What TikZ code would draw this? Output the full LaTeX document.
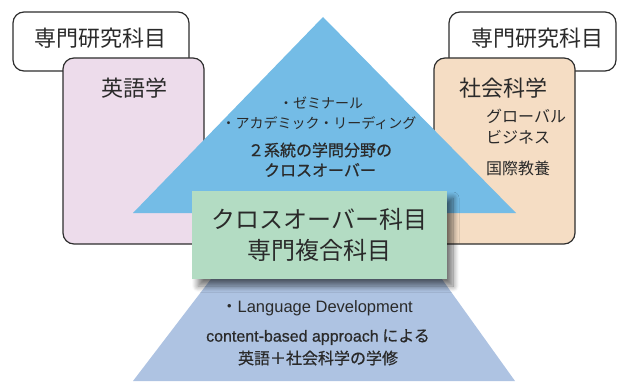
\documentclass[tikz,border=0pt]{standalone}
\usepackage{fontspec}
\setmainfont{Noto Sans CJK JP}
\newfontfamily\jpmed[FakeBold=0.7]{Noto Sans CJK JP}
\newfontfamily\lat{Liberation Sans}
\newfontfamily\latmed[FakeBold=0.7]{Liberation Sans}
\usetikzlibrary{shadows.blur}
\definecolor{txt}{HTML}{2A2A2A}
\definecolor{edge}{HTML}{2E2E2E}
\definecolor{pinkfill}{HTML}{EDDCEB}
\definecolor{peachfill}{HTML}{F5DDC4}
\definecolor{trifill}{HTML}{74BCE6}
\definecolor{trapfill}{HTML}{AEC3E2}
\definecolor{greenfill}{HTML}{B3DCC3}
\tikzset{
  labelbox/.style={draw=edge, line width=1.2pt, fill=white, rounded corners=11pt},
  pinkbox/.style={draw=edge, line width=1.2pt, fill=pinkfill, rounded corners=11pt},
  peachbox/.style={draw=edge, line width=1.2pt, fill=peachfill, rounded corners=11pt},
  txtnode/.style={text=txt, inner sep=0pt, anchor=center},
  big/.style={txtnode, font=\fontsize{22}{26}\selectfont},
  mid/.style={txtnode, font=\fontsize{14}{17}\selectfont},
  midb/.style={txtnode, font=\fontsize{16}{19}\selectfont\jpmed},
  sub/.style={text=txt, inner sep=0pt, anchor=west, font=\fontsize{16}{19}\selectfont},
}
\begin{document}
\begin{tikzpicture}[x=1pt,y=-1pt]
\useasboundingbox (0,0) rectangle (618,382);
% label boxes
\draw[labelbox] (13,12) rectangle (189,71);
\draw[labelbox] (449,12) rectangle (616,71);
\node[big] (lbl1) at (100,38) {専門研究科目};
\node[big] (lbl2) at (537,38) {専門研究科目};
% subject boxes
\draw[pinkbox] (63,58) rectangle (204,244);
\draw[peachbox] (434,58) rectangle (575,244);
\node[big] (eng) at (134,88) {英語学};
\node[big] (soc) at (503,88) {社会科学};
\node[sub] (s1) at (486,116) {グローバル};
\node[sub] (s2) at (486,137) {ビジネス};
\node[sub] (s3) at (486,168) {国際教養};
% triangle
\fill[trifill] (323,17) -- (133,213) -- (516,213) -- cycle;
\node[mid] (t1) at (321,103) {・ゼミナール};
\node[mid] (t2) at (319,123) {・アカデミック・リーディング};
\node[midb] (t3) at (320,150) {２系統の学問分野の};
\node[midb] (t4) at (320,170) {クロスオーバー};
% trapezoid
\fill[trapfill] (133,381) -- (214,275) -- (439,275) -- (515,381) -- cycle;
\node[mid, font=\fontsize{16.5}{19}\selectfont] (b1) at (317,308) {・{\lat Language Development}};
\node[midb] (b2) at (318,337) {{\latmed content-based approach} による};
\node[midb] (b3) at (318,358) {英語＋社会科学の学修};
% green box
\node[fill=greenfill, minimum width=255pt, minimum height=88pt, inner sep=0pt,
      blur shadow={shadow xshift=6pt, shadow yshift=-7pt, shadow blur steps=10, shadow opacity=55, shadow blur radius=6pt},
      text=txt, align=center, font=\fontsize{24}{31}\selectfont] (cross) at (319.5,235) {クロスオーバー科目\\専門複合科目};
\end{tikzpicture}
\end{document}
